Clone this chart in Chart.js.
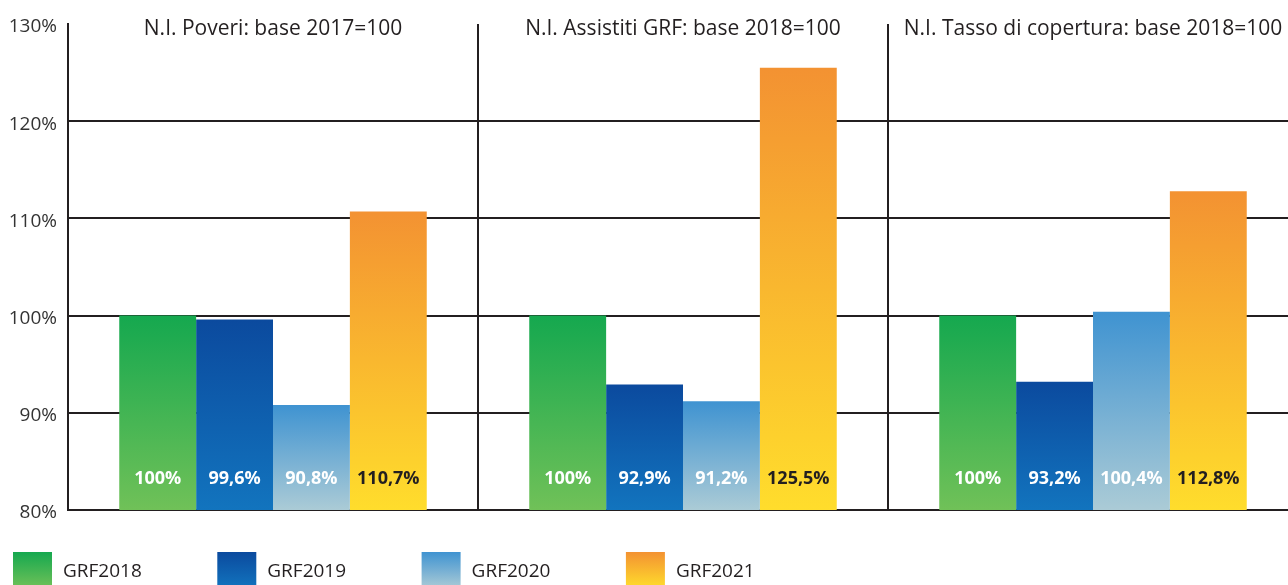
<!DOCTYPE html>
<html>
<head>
<meta charset="utf-8">
<script src="https://cdn.jsdelivr.net/npm/chart.js@4.4.1/dist/chart.umd.min.js"></script>
<style>
  html, body { margin: 0; padding: 0; background: #fff; overflow: hidden; }
  #wrap { width: 1288px; height: 585px; overflow: hidden; position: relative; }
  #box { width: 1298px; height: 585px; }
</style>
</head>
<body>
<div id="wrap"><div id="box"><canvas id="chart"></canvas></div></div>
<script>
// chart data
const categories = [
    "N.I. Poveri: base 2017=100",
    "N.I. Assistiti GRF: base 2018=100",
    "N.I. Tasso di copertura: base 2018=100"
];
const seriesNames = ["GRF2018", "GRF2019", "GRF2020", "GRF2021"];
const grf2018 = [100, 100, 100];
const grf2019 = [99.6, 92.9, 93.2];
const grf2020 = [90.8, 91.2, 100.4];
const grf2021 = [110.7, 125.5, 112.8];
const yTicks = [80, 90, 100, 110, 120, 130];

// styles (top colour, bottom colour)
const gradients = [
    ["#15a84f", "#70c158"],
    ["#0b4a9e", "#1274be"],
    ["#3f93d1", "#abcbd6"],
    ["#f39232", "#ffdd2c"]
];
const labelColors = ["#ffffff", "#ffffff", "#ffffff", "#231f20"];
const ink = "#231f20";
const FONT = "'Open Sans', 'Noto Sans', sans-serif";

function fmt(v) {
    return (Number.isInteger(v) ? String(v) : v.toFixed(1).replace(".", ",")) + "%";
}

function barFill(idx) {
    return function (ctx) {
        const chart = ctx.chart;
        if (!chart.chartArea || !ctx.parsed) return gradients[idx][0];
        const y = chart.scales.y;
        const top = y.getPixelForValue(ctx.parsed.y);
        const bottom = y.getPixelForValue(y.min);
        const g = chart.ctx.createLinearGradient(0, top, 0, bottom);
        g.addColorStop(0, gradients[idx][0]);
        g.addColorStop(1, gradients[idx][1]);
        return g;
    };
}

const groupTitles = {
    id: "groupTitles",
    afterDraw(chart) {
        const c = chart.ctx;
        const x = chart.scales.x;
        c.save();
        c.font = "500 21px " + FONT;
        c.fillStyle = ink;
        c.textAlign = "center";
        c.textBaseline = "middle";
        categories.forEach((label, i) => {
            c.fillText(label, x.getPixelForValue(i), chart.chartArea.top + 5);
        });
        c.restore();
    }
};

// value labels near the bottom of each bar
const valueLabels = {
    id: "valueLabels",
    afterDraw(chart) {
        const c = chart.ctx;
        const yScale = chart.scales.y;
        const baseY = yScale.getPixelForValue(yScale.min);
        c.save();
        c.font = "bold 18px " + FONT;
        c.textAlign = "center";
        c.textBaseline = "middle";
        chart.data.datasets.forEach((ds, di) => {
            const meta = chart.getDatasetMeta(di);
            c.fillStyle = labelColors[di];
            meta.data.forEach((bar, i) => {
                c.fillText(fmt(ds.data[i]), bar.x, baseY - 31);
            });
        });
        c.restore();
    }
};

const bottomLegend = {
    id: "bottomLegend",
    afterDraw(chart) {
        const c = chart.ctx;
        c.save();
        c.font = "19px " + FONT;
        c.textBaseline = "middle";
        chart.data.datasets.forEach((ds, i) => {
            const x0 = 13 + i * 204.3;
            const y0 = 552;
            const g = c.createLinearGradient(0, y0, 0, y0 + 36);
            g.addColorStop(0, gradients[i][0]);
            g.addColorStop(1, gradients[i][1]);
            c.fillStyle = g;
            c.fillRect(x0, y0, 39, 39);
            c.fillStyle = ink;
            c.fillText(ds.label, x0 + 50, 572);
        });
        c.restore();
    }
};

const seriesValues = [grf2018, grf2019, grf2020, grf2021];

new Chart(document.getElementById("chart"), {
    type: "bar",
    data: {
        labels: categories,
        datasets: seriesNames.map((name, i) => ({
            label: name,
            data: seriesValues[i],
            backgroundColor: barFill(i),
            borderWidth: 0,
            categoryPercentage: 0.75,
            barPercentage: 1.0
        }))
    },
    options: {
        responsive: true,
        maintainAspectRatio: false,
        animation: false,
        layout: { padding: { top: 24, right: 0, bottom: 75, left: 0 } },
        plugins: {
            legend: { display: false },
            tooltip: { enabled: false }
        },
        scales: {
            x: {
                ticks: { display: false },
                grid: {
                    offset: true,
                    color: ink,
                    lineWidth: 2,
                    drawTicks: false
                },
                border: { display: false }
            },
            y: {
                min: yTicks[0],
                max: yTicks[yTicks.length - 1],
                afterBuildTicks(scale) {
                    scale.ticks = yTicks.map((v) => ({ value: v }));
                },
                afterFit(scale) {
                    scale.width = 68;
                },
                ticks: {
                    padding: 11,
                    labelOffset: 3,
                    color: "#333333",
                    font: { family: FONT, size: 19 },
                    callback: (v) => v + "%"
                },
                grid: {
                    color: (ctx) => (ctx.tick && ctx.tick.value === 130 ? "rgba(0,0,0,0)" : ink),
                    lineWidth: 2,
                    drawTicks: false
                },
                border: { display: true, color: ink, width: 2 }
            }
        }
    },
    plugins: [groupTitles, valueLabels, bottomLegend]
});
</script>
</body>
</html>
